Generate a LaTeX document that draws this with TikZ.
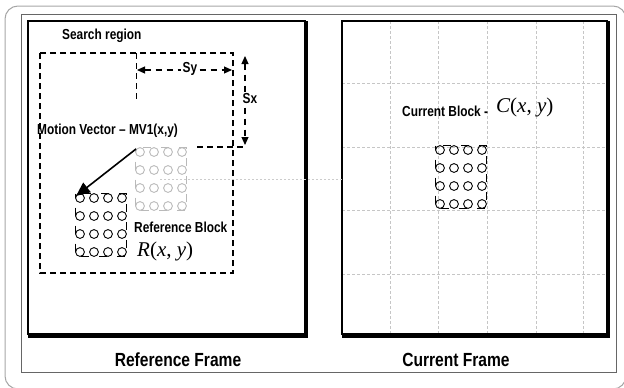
\documentclass[tikz,border=0pt]{standalone}
\usepackage{fontspec}
\usetikzlibrary{arrows.meta}
\newfontfamily\nsf[FakeStretch=0.82]{Liberation Sans}
\newfontfamily\tms{Liberation Serif}
\tikzset{
  lbl/.style={inner sep=0pt, font=\nsf\bfseries\fontsize{14.5}{16}\selectfont},
  ttl/.style={inner sep=0pt, font=\nsf\bfseries\fontsize{19}{21}\selectfont},
  mth/.style={inner sep=0pt, font=\tms\fontsize{21}{23}\selectfont},
  frm/.style={line width=1.6pt},
  shadow/.style={line width=4.5pt},
  gridl/.style={gray!45, line width=0.6pt, dash pattern=on 3pt off 2pt},
  srch/.style={line width=1.4pt, dash pattern=on 6pt off 4pt},
  dimarrow/.style={line width=1.2pt, dash pattern=on 6pt off 5pt, {Triangle[length=8pt,width=7pt]}-{Triangle[length=8pt,width=7pt]}},
  pixblk/.pic={
    \foreach \i in {0,1,2,3}{
      \foreach \j in {0,1,2,3}{
        \draw[line width=0.9pt] (\i*14,\j*18) circle (4.4pt);
      }
    }
    \draw[line width=0.9pt, dash pattern=on 8pt off 10pt, dash phase=4pt] (-4.4,-4.4) rectangle (46.4,58.4);
  }
}
\begin{document}
\begin{tikzpicture}[x=1pt,y=-1pt]
\useasboundingbox (0,0) rectangle (624,388);
% outer borders
\draw[gray!70, line width=1pt, rounded corners=13pt] (5,6) rectangle (626,389);
\draw[gray!80!black, line width=0.9pt] (21,14) rectangle (616,372);

% left frame
\draw[frm] (28,21) rectangle (305,334);
\draw[shadow] (306,21) -- (306,336) -- (28,336);
% right frame
\fill[white] (342,21) rectangle (607,334);
\foreach \x in {390,438,487,536,583} \draw[gridl] (\x,21) -- (\x,334);
\foreach \y in {83,147,210,274} \draw[gridl] (342,\y) -- (607,\y);
\draw[frm] (342,21) rectangle (607,334);
\draw[shadow] (608,21) -- (608,336) -- (342,336);
% faint line across
\draw[gray!40, line width=0.5pt, dash pattern=on 2pt off 2pt] (160,179) -- (343,179);

% search region
\draw[srch] (40,53) rectangle (233,273);
\draw[line width=1pt, dash pattern=on 6pt off 4pt] (136,53) -- (136,100);
\draw[line width=1.6pt, dash pattern=on 6pt off 4pt] (197,147) -- (245,147);

\coordinate (syl) at (137,70);
\coordinate (syr) at (232,70);
\coordinate (sxt) at (245,56);
\coordinate (sxb) at (245,145);
\draw[dimarrow] (syl) -- (syr);
\draw[dimarrow] (sxt) -- (sxb);
\node[lbl, fill=white, inner sep=2pt] (sy) at (190,69) {Sy};
\node[lbl, fill=white, inner sep=2pt] (sx) at (250,99) {Sx};

\node[lbl, anchor=west] (search) at (62,36) {Search region};
\node[lbl, anchor=west] (mv) at (37,131) {Motion Vector – MV1(x,y)};

% blocks
\pic[gray!55] (refblk) at (140,152) {pixblk};
\pic[black] (blkblk) at (80,198) {pixblk};
\pic[black] (curblk) at (440,150) {pixblk};

\coordinate (mvs) at (136,149);
\coordinate (mve) at (76,196);
\draw[line width=1.6pt, -{Triangle[length=14pt,width=12pt]}] (mvs) -- (mve);

\node[lbl, anchor=west] (refb) at (134,227) {Reference Block};
\node[mth, anchor=west] (rxy) at (137,251) {\itshape R\upshape(\itshape x\upshape, \itshape y\upshape)};

\node[lbl, anchor=west] (curb) at (402,111) {Current Block -};
\node[mth, anchor=west] (cxy) at (496,107) {\itshape C\upshape(\itshape x\upshape, \itshape y\upshape)};

\node[ttl] (reft) at (178,360) {Reference Frame};
\node[ttl] (curt) at (456,360) {Current Frame};
\end{tikzpicture}
\end{document}
